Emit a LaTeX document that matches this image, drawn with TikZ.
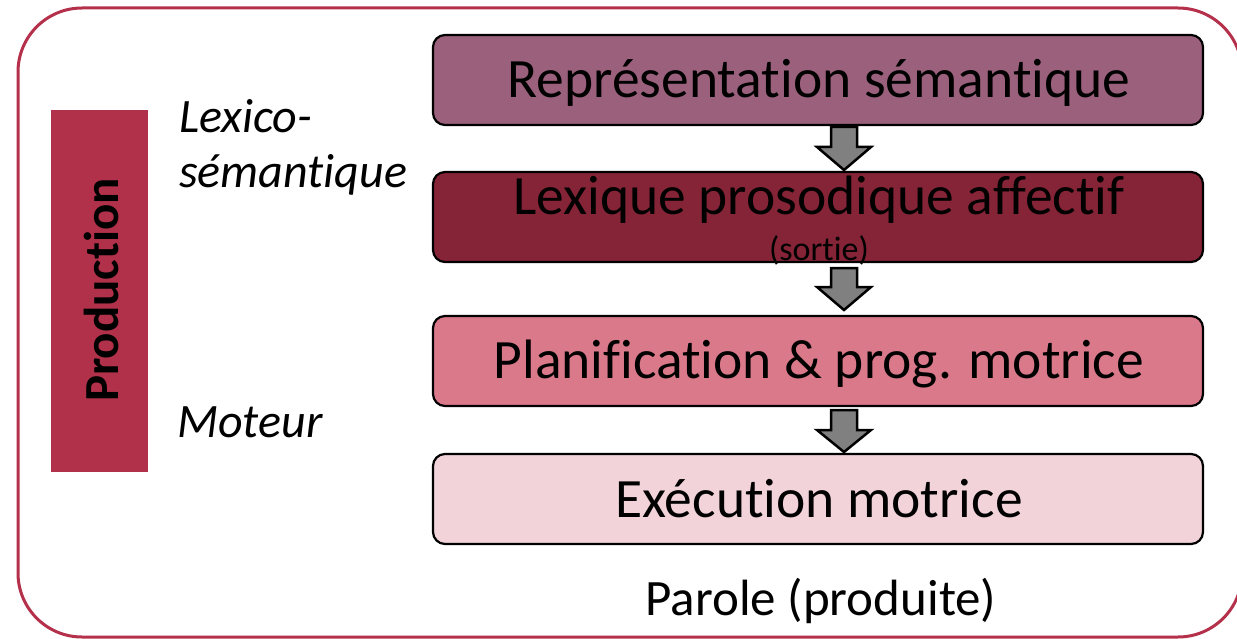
\documentclass[tikz,border=0pt]{standalone}
\usepackage{fontspec}
\setmainfont{Carlito}[Ligatures=NoCommon]
\definecolor{frame}{HTML}{B5304A}
\definecolor{prodbar}{HTML}{B03149}
\definecolor{cA}{HTML}{9A607C}
\definecolor{cB}{HTML}{862437}
\definecolor{cC}{HTML}{D9798A}
\definecolor{cD}{HTML}{F2D3DA}
\definecolor{arrowgrey}{HTML}{808080}
\tikzset{
  stage/.style={draw=black, line width=2.2pt, rounded corners=12pt, minimum width=770pt, minimum height=90pt, inner sep=0pt},
  stagetext/.style={font=\fontsize{55.5}{60}\selectfont, inner sep=0pt, anchor=base},
  downarrow/.style={draw=black, line width=2.5pt, fill=arrowgrey},
  sidelabel/.style={anchor=base west, font=\fontsize{48}{52}\selectfont\itshape, inner sep=0pt}
}
\begin{document}
\begin{tikzpicture}[x=1pt,y=-1pt]
\useasboundingbox (0,0) rectangle (1237,639);
\fill[white] (0,0) rectangle (1237,639);
\draw[frame, line width=3pt, rounded corners=64pt] (18,8) rectangle (1242,637);
\fill[prodbar] (51,110) rectangle (148,472);
\node[rotate=90, anchor=base, font=\fontsize{49}{52}\selectfont\bfseries, inner sep=0pt] (prod) at (118,290) {Production};
\node[sidelabel] (lex1) at (179,133) {Lexico-};
\node[sidelabel] (lex2) at (179,188) {sémantique};
\node[sidelabel] (mot) at (177,437) {Moteur};
\node[stage, fill=cA] (s1) at (818,80) {};
\node[stagetext] (t1) at (819,98) {Représentation sémantique};
\node[stage, fill=cB] (s2) at (818,217) {};
\node[stagetext] (t2) at (819,215) {Lexique prosodique affectif};
\node[font=\fontsize{34}{36}\selectfont, inner sep=0pt, anchor=base] (t2b) at (819,260) {(sortie)};
\node[stage, fill=cC] (s3) at (818,361) {};
\node[stagetext] (t3) at (819,378) {Planification \& prog. motrice};
\node[stage, fill=cD] (s4) at (818,499) {};
\node[stagetext] (t4) at (819,517) {Exécution motrice};
\node[font=\fontsize{51}{54}\selectfont, inner sep=0pt, anchor=base] (par) at (821,615) {Parole (produite)};
% block arrows between the stages
\foreach \top/\mid/\tip in {127/147/170, 268/287/310, 410/430/452}{
  \draw[downarrow] (831,\top) -- (857,\top) -- (857,\mid) -- (871,\mid) -- (844,\tip) -- (817,\mid) -- (831,\mid) -- cycle;
}
\end{tikzpicture}
\end{document}
